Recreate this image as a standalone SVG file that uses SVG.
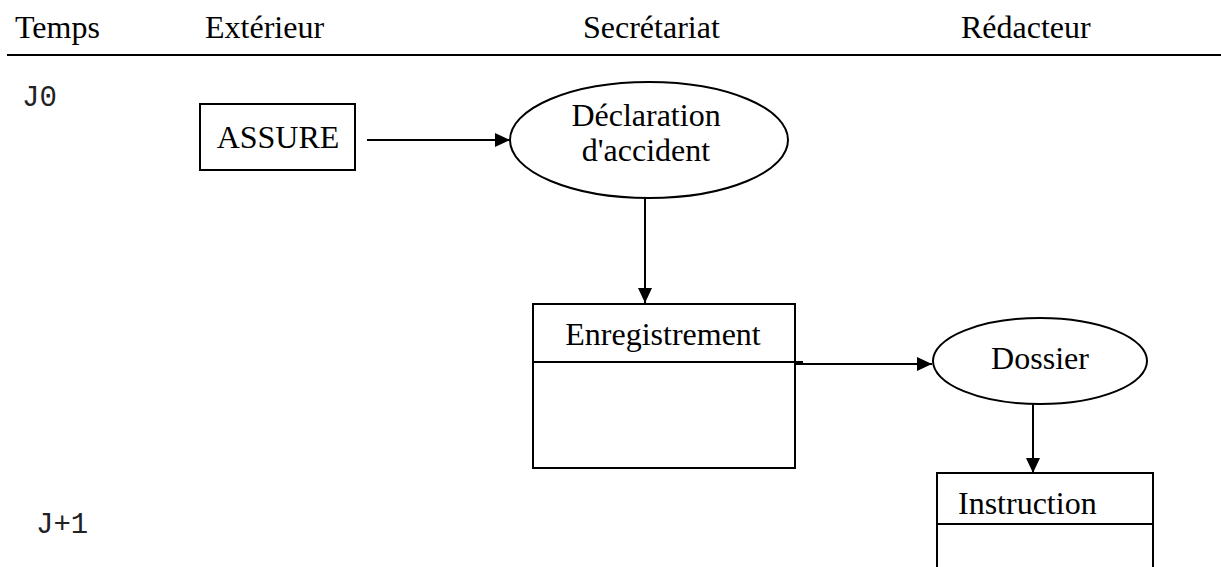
<svg xmlns="http://www.w3.org/2000/svg" width="1221" height="567" viewBox="0 0 1221 567">
<style>
.t{font-family:"Liberation Serif","Times New Roman",serif;font-size:32px;fill:#000}
.m{font-family:"Liberation Mono","Courier New",monospace;font-size:29px;fill:#222}
.s{fill:#fff;stroke:#000;stroke-width:2}
.c{fill:none;stroke:#000;stroke-width:2}
</style>
<defs>
<marker id="ah" viewBox="0 0 15 14" refX="15" refY="7" markerWidth="15" markerHeight="14" markerUnits="userSpaceOnUse" orient="auto">
<path d="M0,0 L15,7 L0,14 z" fill="#000"/>
</marker>
</defs>
<rect width="1221" height="567" fill="#fff"/>
<g id="header">
<text class="t" x="15" y="38">Temps</text>
<text class="t" x="205" y="38">Extérieur</text>
<text class="t" x="583" y="38">Secrétariat</text>
<text class="t" x="961" y="38">Rédacteur</text>
<line x1="7" y1="55" x2="1221" y2="55" stroke="#000" stroke-width="2"/>
</g>
<g id="time">
<text class="m" x="22" y="106">J0</text>
<text class="m" x="36" y="533">J+1</text>
</g>
<g id="connectors">
<line class="c" x1="367" y1="140" x2="510" y2="140" marker-end="url(#ah)"/>
<line class="c" x1="645" y1="198" x2="645" y2="303" marker-end="url(#ah)"/>
<line class="c" x1="795" y1="364" x2="932" y2="364" marker-end="url(#ah)"/>
<line class="c" x1="1033" y1="404" x2="1033" y2="473" marker-end="url(#ah)"/>
</g>
<g id="assure">
<rect class="s" x="200" y="104" width="155" height="66"/>
<text class="t" x="278" y="148" text-anchor="middle">ASSURE</text>
</g>
<g id="declaration">
<ellipse class="s" cx="649" cy="140" rx="139" ry="58"/>
<text class="t" x="646" y="126" text-anchor="middle">Déclaration</text>
<text class="t" x="646" y="161" text-anchor="middle">d'accident</text>
</g>
<g id="enregistrement">
<rect class="s" x="533" y="304" width="262" height="164"/>
<line class="c" x1="533" y1="362" x2="803" y2="362"/>
<text class="t" x="663" y="345" text-anchor="middle">Enregistrement</text>
</g>
<g id="dossier">
<ellipse class="s" cx="1040" cy="361" rx="107" ry="43"/>
<text class="t" x="1040" y="369" text-anchor="middle">Dossier</text>
</g>
<g id="instruction">
<rect class="s" x="937" y="473" width="216" height="110"/>
<line class="c" x1="937" y1="524" x2="1153" y2="524"/>
<text class="t" x="958" y="514">Instruction</text>
</g>
</svg>
